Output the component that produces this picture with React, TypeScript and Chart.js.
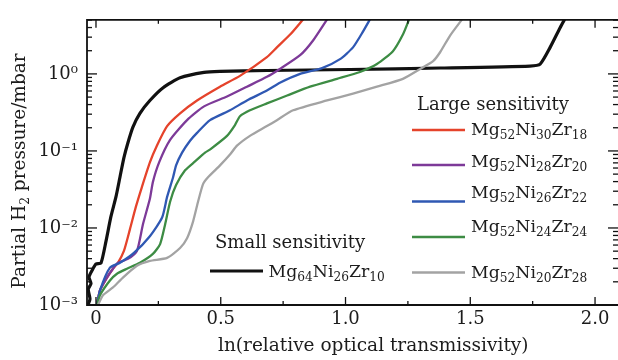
import React, { useEffect, useRef } from 'react';
import { Chart, registerables } from 'chart.js';
Chart.register(...registerables);

// ---------- data ----------
const X_MIN = -0.036;
const X_MAX = 2.092;
const Y_MIN = 0.001;
const Y_MAX = 5.04;

const X_TICKS = [0, 0.25, 0.5, 0.75, 1, 1.25, 1.5, 1.75, 2];
const Y_TICKS = [
  0.001, 0.002, 0.003, 0.004, 0.005, 0.006, 0.007, 0.008, 0.009,
  0.01, 0.02, 0.03, 0.04, 0.05, 0.06, 0.07, 0.08, 0.09,
  0.1, 0.2, 0.3, 0.4, 0.5, 0.6, 0.7, 0.8, 0.9,
  1, 2, 3, 4, 5,
];
const Y_LABELS: Record<string, string> = { '0.001': '10⁻³', '0.01': '10⁻²', '0.1': '10⁻¹', '1': '10⁰' };

const mg64x = [-0.032, -0.024, -0.031, -0.02, -0.028, -0.016, 0.0, 0.02, 0.04, 0.06, 0.08, 0.096, 0.112, 0.128, 0.148, 0.176, 0.216, 0.269, 0.337, 0.433, 0.497, 0.685, 1.018, 1.379, 1.739, 1.78, 1.82, 1.86, 1.888];
const mg64y = [0.001, 0.0012, 0.0016, 0.0019, 0.0023, 0.0028, 0.0034, 0.0035, 0.0067, 0.0141, 0.0253, 0.0456, 0.082, 0.128, 0.204, 0.308, 0.452, 0.663, 0.889, 1.045, 1.076, 1.108, 1.141, 1.193, 1.265, 1.342, 2.21, 3.98, 5.84];

const ni30x = [0.004, 0.016, 0.044, 0.068, 0.088, 0.112, 0.136, 0.16, 0.184, 0.216, 0.244, 0.285, 0.337, 0.405, 0.497, 0.577, 0.685, 0.725, 0.778, 0.83];
const ni30y = [0.001, 0.00155, 0.00227, 0.00296, 0.00353, 0.00503, 0.0096, 0.0189, 0.034, 0.071, 0.117, 0.21, 0.308, 0.452, 0.682, 0.943, 1.65, 2.21, 3.24, 5.1];

const ni28x = [0.004, 0.016, 0.044, 0.068, 0.088, 0.128, 0.164, 0.188, 0.216, 0.228, 0.253, 0.297, 0.365, 0.433, 0.525, 0.605, 0.685, 0.737, 0.818, 0.87, 0.926];
const ni28y = [0.001, 0.00155, 0.00227, 0.00296, 0.00353, 0.00397, 0.00503, 0.0111, 0.0239, 0.0394, 0.071, 0.139, 0.251, 0.379, 0.508, 0.682, 0.916, 1.16, 1.75, 2.72, 5.1];

const ni26x = [0.004, 0.016, 0.056, 0.096, 0.152, 0.216, 0.265, 0.285, 0.309, 0.321, 0.345, 0.377, 0.405, 0.457, 0.537, 0.605, 0.685, 0.737, 0.818, 0.906, 0.978, 1.03, 1.07, 1.098];
const ni26y = [0.001, 0.00155, 0.00305, 0.00353, 0.00474, 0.00782, 0.01365, 0.0253, 0.0456, 0.0649, 0.095, 0.1355, 0.1714, 0.251, 0.337, 0.452, 0.607, 0.767, 1.0, 1.19, 1.555, 2.21, 3.54, 5.1];

const ni24x = [0.004, 0.016, 0.056, 0.084, 0.124, 0.176, 0.228, 0.257, 0.277, 0.297, 0.321, 0.357, 0.397, 0.437, 0.458, 0.525, 0.557, 0.577, 0.617, 0.685, 0.766, 0.858, 0.966, 1.058, 1.126, 1.19, 1.23, 1.255];
const ni24y = [0.001, 0.00134, 0.00208, 0.00255, 0.00296, 0.00353, 0.0046, 0.00618, 0.0111, 0.0219, 0.036, 0.056, 0.073, 0.095, 0.105, 0.157, 0.217, 0.282, 0.337, 0.414, 0.524, 0.682, 0.863, 1.06, 1.342, 1.97, 3.24, 5.1];

const ni20x = [0.008, 0.028, 0.068, 0.108, 0.164, 0.216, 0.285, 0.337, 0.365, 0.389, 0.409, 0.429, 0.449, 0.497, 0.537, 0.565, 0.617, 0.685, 0.725, 0.79, 0.926, 1.03, 1.126, 1.23, 1.299, 1.351, 1.379, 1.419, 1.467];
const ni20y = [0.001, 0.00134, 0.00169, 0.00227, 0.00323, 0.00374, 0.00409, 0.00549, 0.00736, 0.0121, 0.0219, 0.0371, 0.0456, 0.0649, 0.0897, 0.117, 0.157, 0.21, 0.251, 0.337, 0.452, 0.555, 0.682, 0.863, 1.16, 1.466, 1.91, 3.15, 5.1];

// legend names: [text, subscript, text, subscript, ...]
const NAME_64 = ['Mg', '64', 'Ni', '26', 'Zr', '10'];
const NAME_30 = ['Mg', '52', 'Ni', '30', 'Zr', '18'];
const NAME_28 = ['Mg', '52', 'Ni', '28', 'Zr', '20'];
const NAME_26 = ['Mg', '52', 'Ni', '26', 'Zr', '22'];
const NAME_24 = ['Mg', '52', 'Ni', '24', 'Zr', '24'];
const NAME_20 = ['Mg', '52', 'Ni', '20', 'Zr', '28'];

const X_TITLE = 'ln(relative optical transmissivity)';
const Y_TITLE = ['Partial H', '2', ' pressure/mbar'];
const LARGE_TITLE = 'Large sensitivity';
const SMALL_TITLE = 'Small sensitivity';

// ---------- styles ----------
const FONT = '"DejaVu Serif", serif';
const FS_TICK = 18;
const FS_TITLE = 18.5;
const FS_HEAD = 18;
const FS_NAME = 17.3;
const FS_SUB = 12.2;
const TEXT = '#1c1c1c';
const C_BLACK = '#111111';
const C_RED = '#e5432b';
const C_PURPLE = '#7d3a98';
const C_BLUE = '#2f58b3';
const C_GREEN = '#3d8c44';
const C_GRAY = '#a3a3a3';

function drawRich(ctx: CanvasRenderingContext2D, parts: string[], x: number, y: number, size: number, align: 'left' | 'center' = 'left') {
  // even index = normal, odd index = subscript
  ctx.textBaseline = 'alphabetic';
  ctx.textAlign = 'left';
  const widths = parts.map((p, i) => {
    ctx.font = `${i % 2 ? FS_SUB : size}px ${FONT}`;
    return ctx.measureText(p).width;
  });
  const total = widths.reduce((a, b) => a + b, 0);
  let cx = align === 'center' ? x - total / 2 : x;
  parts.forEach((p, i) => {
    ctx.font = `${i % 2 ? FS_SUB : size}px ${FONT}`;
    ctx.fillText(p, cx, y + (i % 2 ? 4 : 0));
    cx += widths[i];
  });
}

const decor = {
  id: 'decor',
  afterDatasetsDraw(chart: any) {
    const { ctx, chartArea: a, scales } = chart;
    const xs = scales.x;
    const ys = scales.y;
    ctx.save();
    ctx.strokeStyle = '#111';
    ctx.lineCap = 'butt';
    const seg = (x1: number, y1: number, x2: number, y2: number) => {
      ctx.beginPath();
      ctx.moveTo(x1, y1);
      ctx.lineTo(x2, y2);
      ctx.stroke();
    };
    // frame
    ctx.lineWidth = 1.8;
    ctx.beginPath();
    ctx.moveTo(a.right + 2, a.top);
    ctx.lineTo(a.left, a.top);
    ctx.lineTo(a.left, a.bottom);
    ctx.lineTo(a.right + 2, a.bottom);
    ctx.stroke();
    // ticks (inward)
    ctx.lineWidth = 1.3;
    xs.ticks.forEach((t: any) => {
      const px = xs.getPixelForValue(t.value);
      const major = Math.abs(t.value * 2 - Math.round(t.value * 2)) < 1e-6;
      const len = major ? 8 : 4;
      seg(px, a.bottom, px, a.bottom - len);
      seg(px, a.top, px, a.top + len);
    });
    ys.ticks.forEach((t: any) => {
      const py = ys.getPixelForValue(t.value);
      const lg = Math.log10(t.value);
      const major = Math.abs(lg - Math.round(lg)) < 1e-6;
      const len = major ? 10 : 5;
      seg(a.left, py, a.left + len, py);
      seg(a.right, py, a.right - len, py);
    });

    ctx.fillStyle = TEXT;
    // axis titles
    ctx.font = `${FS_TITLE}px ${FONT}`;
    ctx.textAlign = 'left';
    ctx.textBaseline = 'alphabetic';
    ctx.fillText(X_TITLE, 218, 351);
    ctx.save();
    ctx.translate(25, 171);
    ctx.rotate(-Math.PI / 2);
    drawRich(ctx, Y_TITLE, 0, 0, FS_TITLE, 'center');
    ctx.restore();

    // legends
    const entries: [string[], string, number, number][] = [
      [NAME_30, C_RED, 130, 135],
      [NAME_28, C_PURPLE, 165, 167],
      [NAME_26, C_BLUE, 201.5, 198],
      [NAME_24, C_GREEN, 237, 232],
      [NAME_20, C_GRAY, 272.5, 278],
    ];
    ctx.font = `${FS_HEAD}px ${FONT}`;
    ctx.fillStyle = TEXT;
    ctx.fillText(LARGE_TITLE, 417, 109.5);
    entries.forEach(([name, col, ly, ty]) => {
      ctx.strokeStyle = col;
      ctx.lineWidth = 2.4;
      seg(412, ly, 465, ly);
      ctx.fillStyle = TEXT;
      drawRich(ctx, name, 471, ty, FS_NAME);
    });
    ctx.font = `${FS_HEAD}px ${FONT}`;
    ctx.fillStyle = TEXT;
    ctx.textAlign = 'left';
    ctx.fillText(SMALL_TITLE, 215, 248);
    ctx.strokeStyle = C_BLACK;
    ctx.lineWidth = 3.2;
    seg(210, 271, 263, 271);
    drawRich(ctx, NAME_64, 268.5, 277, FS_NAME);
    ctx.restore();
  },
};

const pts = (xs: number[], ys: number[]) => xs.map((x, i) => ({ x, y: ys[i] }));

export default function App() {
  const ref = useRef<HTMLCanvasElement | null>(null);
  useEffect(() => {
    document.body.style.margin = '0';
    const ds = (data: any, color: string, width: number, order: number) => ({
      data,
      borderColor: color,
      backgroundColor: color,
      borderWidth: width,
      pointRadius: 0,
      tension: 0.2,
      fill: false,
      order,
      borderJoinStyle: 'round',
      borderCapStyle: 'round',
    });
    const chart = new Chart(ref.current as HTMLCanvasElement, {
      type: 'line',
      data: {
        datasets: [
          ds(pts(mg64x, mg64y), C_BLACK, 3.2, 6),
          ds(pts(ni30x, ni30y), C_RED, 2.3, 5),
          ds(pts(ni28x, ni28y), C_PURPLE, 2.3, 4),
          ds(pts(ni26x, ni26y), C_BLUE, 2.3, 3),
          ds(pts(ni24x, ni24y), C_GREEN, 2.3, 2),
          ds(pts(ni20x, ni20y), C_GRAY, 2.3, 1),
        ] as any,
      },
      options: {
        animation: false,
        responsive: true,
        maintainAspectRatio: false,
        layout: { padding: { top: 15, left: 0, right: 0, bottom: 0 } },
        plugins: { legend: { display: false }, tooltip: { enabled: false } },
        scales: {
          x: {
            type: 'linear',
            min: X_MIN,
            max: X_MAX,
            afterBuildTicks: (s: any) => { s.ticks = X_TICKS.map((v) => ({ value: v })); },
            afterFit: (s: any) => { s.height = 55; },
            grid: { display: false, drawTicks: false },
            border: { display: false },
            ticks: {
              autoSkip: false,
              maxRotation: 0,
              padding: 4,
              color: TEXT,
              font: { family: FONT, size: FS_TICK },
              callback: (v: any) => {
                const n = Number(v);
                if (n === 0) return '0';
                return Math.abs(n * 2 - Math.round(n * 2)) < 1e-6 ? n.toFixed(1) : '';
              },
            },
          },
          y: {
            type: 'logarithmic',
            min: Y_MIN,
            max: Y_MAX,
            afterBuildTicks: (s: any) => { s.ticks = Y_TICKS.map((v) => ({ value: v })); },
            afterFit: (s: any) => { s.width = 87; },
            grid: { display: false, drawTicks: false },
            border: { display: false },
            ticks: {
              autoSkip: false,
              padding: 9,
              color: TEXT,
              font: { family: FONT, size: FS_TICK },
              callback: (v: any) => Y_LABELS[String(Number(v))] || '',
            },
          },
        },
      } as any,
      plugins: [decor],
    });
    return () => chart.destroy();
  }, []);
  return (
    <div style={{ position: 'fixed', left: 0, top: 0, width: 618, height: 360, background: '#fff' }}>
      <canvas ref={ref} />
    </div>
  );
}
